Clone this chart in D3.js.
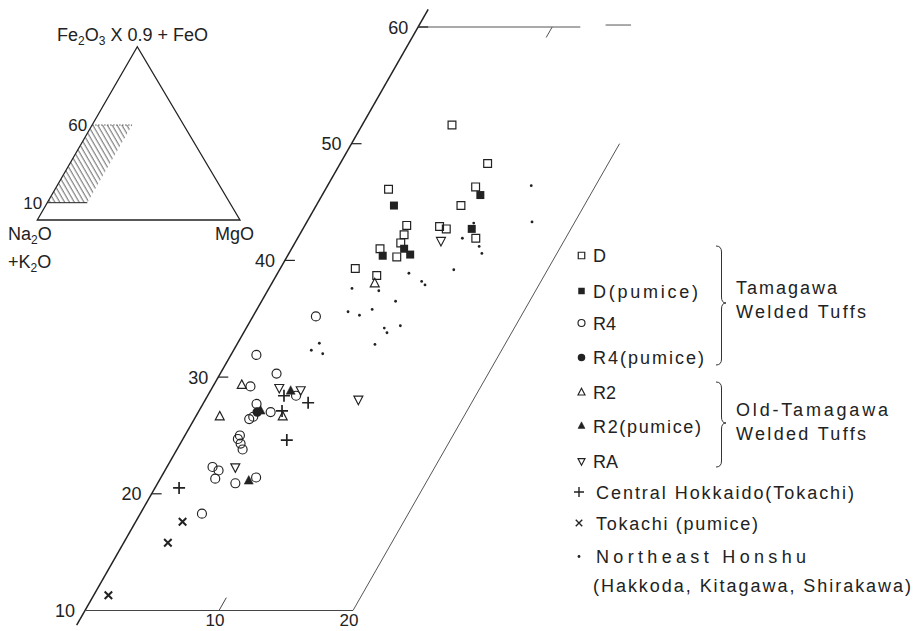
<!DOCTYPE html>
<html><head><meta charset="utf-8">
<script src="https://cdn.jsdelivr.net/npm/d3@7"></script>
<style>
body{margin:0;background:#fff}
svg{display:block}
text{font-family:"Liberation Sans",Arial,sans-serif;fill:#222}
</style>
</head><body>
<svg id="c" width="921" height="631"></svg>
<script>
// ---------- DATA : [MgO, FeO*] in the Na2O+K2O / FeO* / MgO ternary ----------
const feTicks = [10, 20, 30, 40, 50, 60];
const mgTicks = [10, 20];

const seriesNames = ["D", "D(pumice)", "R4", "R4(pumice)", "R2", "R2(pumice)", "RA",
  "Central Hokkaido(Tokachi)", "Tokachi (pumice)", "Northeast Honshu"];
const noteLine = "(Hakkoda, Kitagawa, Shirakawa)";
const groupNames = [["Tamagawa", "Welded Tuffs"], ["Old-Tamagawa", "Welded Tuffs"]];

const D = [[6.7,51.6],[11.0,48.3],[4.7,46.1],[11.1,46.3],[10.8,44.7],[7.6,43.0],[10.1,42.9],
  [10.7,42.7],[7.8,42.2],[7.9,41.5],[6.6,41.0],[8.2,40.3],[13.3,41.9],[5.6,39.3],[7.5,38.7]];
const Dpumice = [[11.8,45.6],[5.8,44.7],[12.6,42.7],[8.4,41.0],[7.1,40.4],[9.1,40.5]];
const R4 = [[4.7,35.2],[1.9,31.9],[4.2,30.3],[2.8,29.2],[4.0,27.7],[5.4,27.0],[4.1,26.4],
  [4.3,26.6],[6.6,28.4],[4.1,25.0],[4.1,24.7],[4.5,24.3],[4.9,23.8],[3.4,22.3],[4.0,22.0],
  [4.1,21.3],[5.8,20.9],[7.1,21.4],[4.6,18.3]];
const R4pumice = [[4.4,27.0]];
const R2 = [[2.1,29.3],[1.8,26.6],[6.5,26.6],[7.7,38.0]];
const R2pumice = [[6.0,28.8],[6.7,21.1],[4.6,27.1]];
const RA = [[5.0,29.1],[6.7,28.9],[11.4,28.1],[5.1,22.3],[10.8,41.7]];
const Hokkaido = [[5.7,28.4],[7.8,27.8],[6.2,27.1],[7.8,24.6],[1.8,20.5]];
const TokachiPumice = [[3.5,17.6],[3.3,15.8],[1.1,11.3]];
const NEHonshu = [[15.2,46.4],[16.8,43.3],[12.5,43.2],[12.3,41.9],[13.9,41.2],[14.4,40.6],
  [13.0,39.2],[9.8,38.9],[11.1,38.2],[11.5,37.9],[6.2,37.6],[8.3,37.4],[10.0,36.5],[6.9,35.6],
  [7.9,35.3],[8.6,35.8],[10.3,34.2],[10.7,33.8],[11.4,34.4],[10.3,32.8],[6.1,32.9],[5.8,32.3],[6.8,32.0]];

// inset ternary: shaded field bounds
const insetFe = [10, 60];
const insetMg = [0, 20];

// ---------- DRAWING ----------
const svg = d3.select("#c");
const ink = "#222";
const FS = 18;

const yFe = d3.scaleLinear().domain([10, 60]).range([610.5, 27]);
const xMg = d3.scaleLinear().domain([0, 20]).range([85, 353]);
const SK = 0.571;
const px = (mg, fe) => xMg(mg) + (yFe(10) - yFe(fe)) * SK;
const py = (mg, fe) => yFe(fe);

// symbol path generators
const sym = {
  square: s => `M${-s/2},${-s/2}h${s}v${s}h${-s}Z`,
  circle: s => `M${s/2},0A${s/2},${s/2} 0 1,1 ${-s/2},0A${s/2},${s/2} 0 1,1 ${s/2},0Z`,
  triUp: s => `M0,${-s*0.6}L${s/2},${s*0.35}L${-s/2},${s*0.35}Z`,
  triDown: s => `M0,${s*0.6}L${s/2},${-s*0.35}L${-s/2},${-s*0.35}Z`,
  plus: s => `M${-s/2},0H${s/2}M0,${-s/2}V${s/2}`,
  cross: s => `M${-s/2},${-s/2}L${s/2},${s/2}M${s/2},${-s/2}L${-s/2},${s/2}`,
  dot: s => `M${s/2},0A${s/2},${s/2} 0 1,1 ${-s/2},0A${s/2},${s/2} 0 1,1 ${s/2},0Z`
};
const styles = [
  {data: D, shape: "square", size: 7.8, fill: "none", sw: 1.2, ls: 6.5},
  {data: Dpumice, shape: "square", size: 8, fill: ink, sw: 0, ls: 6.5},
  {data: R4, shape: "circle", size: 9, fill: "none", sw: 1.15, ls: 7},
  {data: R4pumice, shape: "circle", size: 9.5, fill: ink, sw: 0, ls: 7.5},
  {data: R2, shape: "triUp", size: 9, fill: "none", sw: 1.15, ls: 7},
  {data: R2pumice, shape: "triUp", size: 9, fill: ink, sw: 0.5, ls: 7},
  {data: RA, shape: "triDown", size: 9, fill: "none", sw: 1.15, ls: 7},
  {data: Hokkaido, shape: "plus", size: 12, fill: "none", sw: 1.7, ls: 10},
  {data: TokachiPumice, shape: "cross", size: 7.5, fill: "none", sw: 2, ls: 6.5},
  {data: NEHonshu, shape: "dot", size: 2.8, fill: ink, sw: 0, ls: 2.8}
];

// frame
const frame = [
  {a: [0, 8.75], b: [0, 61.5], w: 1.5, c: ink},
  {a: [0, 10], b: [20, 10], w: 1, c: "#444"},
  {a: [20, 10], b: [20, 50], w: 1, c: "#555"},
  {a: [0, 60], b: [12.1, 60], w: 1, c: "#555"},
  {a: [13.9, 60.17], b: [15.8, 60.17], w: 1, c: "#555"},
  {a: [10, 10], b: [10, 11.1], w: 1, c: "#444"},
  {a: [10, 60], b: [10, 59.1], w: 1, c: "#555"}
];
svg.append("g").selectAll("line").data(frame).join("line")
  .attr("x1", d => px(...d.a)).attr("y1", d => py(...d.a))
  .attr("x2", d => px(...d.b)).attr("y2", d => py(...d.b))
  .attr("stroke", d => d.c).attr("stroke-width", d => d.w);

// left ticks
svg.append("g").selectAll("line").data(feTicks.filter(t => t > 10)).join("line")
  .attr("x1", d => px(0, d)).attr("x2", d => px(0, d) + 10)
  .attr("y1", d => py(0, d)).attr("y2", d => py(0, d))
  .attr("stroke", ink).attr("stroke-width", 1.2);
svg.append("g").selectAll("text").data(feTicks).join("text")
  .attr("x", d => px(0, d) - 10).attr("y", d => py(0, d) + 6.5)
  .attr("text-anchor", "end").attr("font-size", FS).text(d => d);
svg.append("g").selectAll("text").data(mgTicks).join("text")
  .attr("x", d => xMg(d) - 4).attr("y", 626)
  .attr("text-anchor", "middle").attr("font-size", 17).text(d => d);

// points
styles.forEach(st => {
  svg.append("g").selectAll("path").data(st.data).join("path")
    .attr("transform", d => `translate(${px(d[0], d[1])},${py(d[0], d[1])})`)
    .attr("d", sym[st.shape](st.size))
    .attr("fill", st.fill)
    .attr("stroke", st.sw ? ink : "none")
    .attr("stroke-width", st.sw);
});

// legend
const legY = [255.5, 291, 323, 357.5, 392.5, 426, 461, 492, 523, 556.5];
const legLen = [null, 105, null, 111, null, 108, null, 258, 162, 210];
const lg = svg.append("g");
styles.forEach((st, i) => {
  const symX = i >= 7 ? 579 : 581.5;
  lg.append("path").attr("transform", `translate(${symX},${legY[i]})`)
    .attr("d", sym[st.shape](st.ls)).attr("fill", st.fill)
    .attr("stroke", st.sw ? ink : "none").attr("stroke-width", Math.min(st.sw, 1.4));
  const t = lg.append("text").attr("x", i >= 7 ? 596 : 593).attr("y", legY[i] + 6.5)
    .attr("font-size", FS).text(seriesNames[i]);
  if (legLen[i]) t.attr("textLength", legLen[i]).attr("lengthAdjust", "spacing");
});
lg.append("text").attr("x", 593).attr("y", 592).attr("font-size", FS)
  .attr("textLength", 318).attr("lengthAdjust", "spacing").text(noteLine);

// braces
const braces = [{top: 246, mid: 303, bot: 365}, {top: 382, mid: 423, bot: 467}];
const braceText = [[294, 318], [416, 440]];
const braceLen = [[101, 130], [152, 130]];
braces.forEach((b, i) => {
  const x0 = 716, x1 = 721.5, x2 = 726;
  lg.append("path").attr("fill", "none").attr("stroke", "#333").attr("stroke-width", 1)
    .attr("d", `M${x0},${b.top}Q${x1},${b.top} ${x1},${b.top + 6}L${x1},${b.mid - 6}Q${x1},${b.mid} ${x2},${b.mid}` +
      `Q${x1},${b.mid} ${x1},${b.mid + 6}L${x1},${b.bot - 6}Q${x1},${b.bot} ${x0},${b.bot}`);
  groupNames[i].forEach((g, j) => {
    lg.append("text").attr("x", 736).attr("y", braceText[i][j]).attr("font-size", FS)
      .attr("textLength", braceLen[i][j]).attr("lengthAdjust", "spacing").text(g);
  });
});

// ---------- inset ternary ----------
const ins = svg.append("g");
const A = [37.3, 220], B = [137.3, 46.7], C = [240, 220];
ins.append("path").attr("d", `M${A}L${B}L${C}Z`).attr("fill", "none")
  .attr("stroke", ink).attr("stroke-width", 1.3);
const iFe = d3.scaleLinear().domain(insetFe).range([202.7, 125]);
const iMg = d3.scaleLinear().domain(insetMg).range([0, 40]);
const edgeX = y => A[0] + (A[1] - y) * 0.577;
const ip = (mg, fe) => [edgeX(iFe(fe)) + iMg(mg), iFe(fe)];
const defs = svg.append("defs");
const pat = defs.append("pattern").attr("id", "hatch").attr("patternUnits", "userSpaceOnUse")
  .attr("width", 4.2).attr("height", 10).attr("patternTransform", "rotate(-30)");
pat.append("line").attr("x1", 1).attr("x2", 1).attr("y1", 0).attr("y2", 10)
  .attr("stroke", "#333").attr("stroke-width", 0.8);
const corners = [ip(insetMg[0], insetFe[0]), ip(insetMg[0], insetFe[1]), ip(insetMg[1], insetFe[1]), ip(insetMg[1], insetFe[0])];
ins.append("path").attr("d", "M" + corners.join("L") + "Z").attr("fill", "url(#hatch)");
ins.append("line").attr("x1", corners[0][0]).attr("y1", corners[0][1]).attr("x2", corners[3][0]).attr("y2", corners[3][1])
  .attr("stroke", ink).attr("stroke-width", 1);
ins.append("line").attr("x1", corners[1][0]).attr("y1", corners[1][1]).attr("x2", corners[2][0]).attr("y2", corners[2][1])
  .attr("stroke", "#333").attr("stroke-width", 0.8).attr("stroke-dasharray", "1.5,1.5");
ins.selectAll("text.il").data(insetFe).join("text").attr("class", "il")
  .attr("x", d => ip(0, d)[0] - 5).attr("y", d => ip(0, d)[1] + 6)
  .attr("text-anchor", "end").attr("font-size", 17).text(d => d);

function chem(x, y, parts) {
  const t = ins.append("text").attr("x", x).attr("y", y).attr("font-size", FS);
  parts.forEach(p => {
    if (p.sub) t.append("tspan").attr("font-size", 12).attr("dy", 4).text(p.s);
    else t.append("tspan").attr("dy", p.after ? -4 : 0).text(p.s);
  });
  return t;
}
chem(57, 41, [{s: "Fe"}, {s: "2", sub: 1}, {s: "O", after: 1}, {s: "3", sub: 1}, {s: " X 0.9 + FeO", after: 1}])
  .attr("letter-spacing", 0);
chem(8, 240, [{s: "Na"}, {s: "2", sub: 1}, {s: "O", after: 1}]);
chem(8, 268, [{s: "+K"}, {s: "2", sub: 1}, {s: "O", after: 1}]);
chem(215, 240, [{s: "MgO"}]);
</script>
</body></html>
